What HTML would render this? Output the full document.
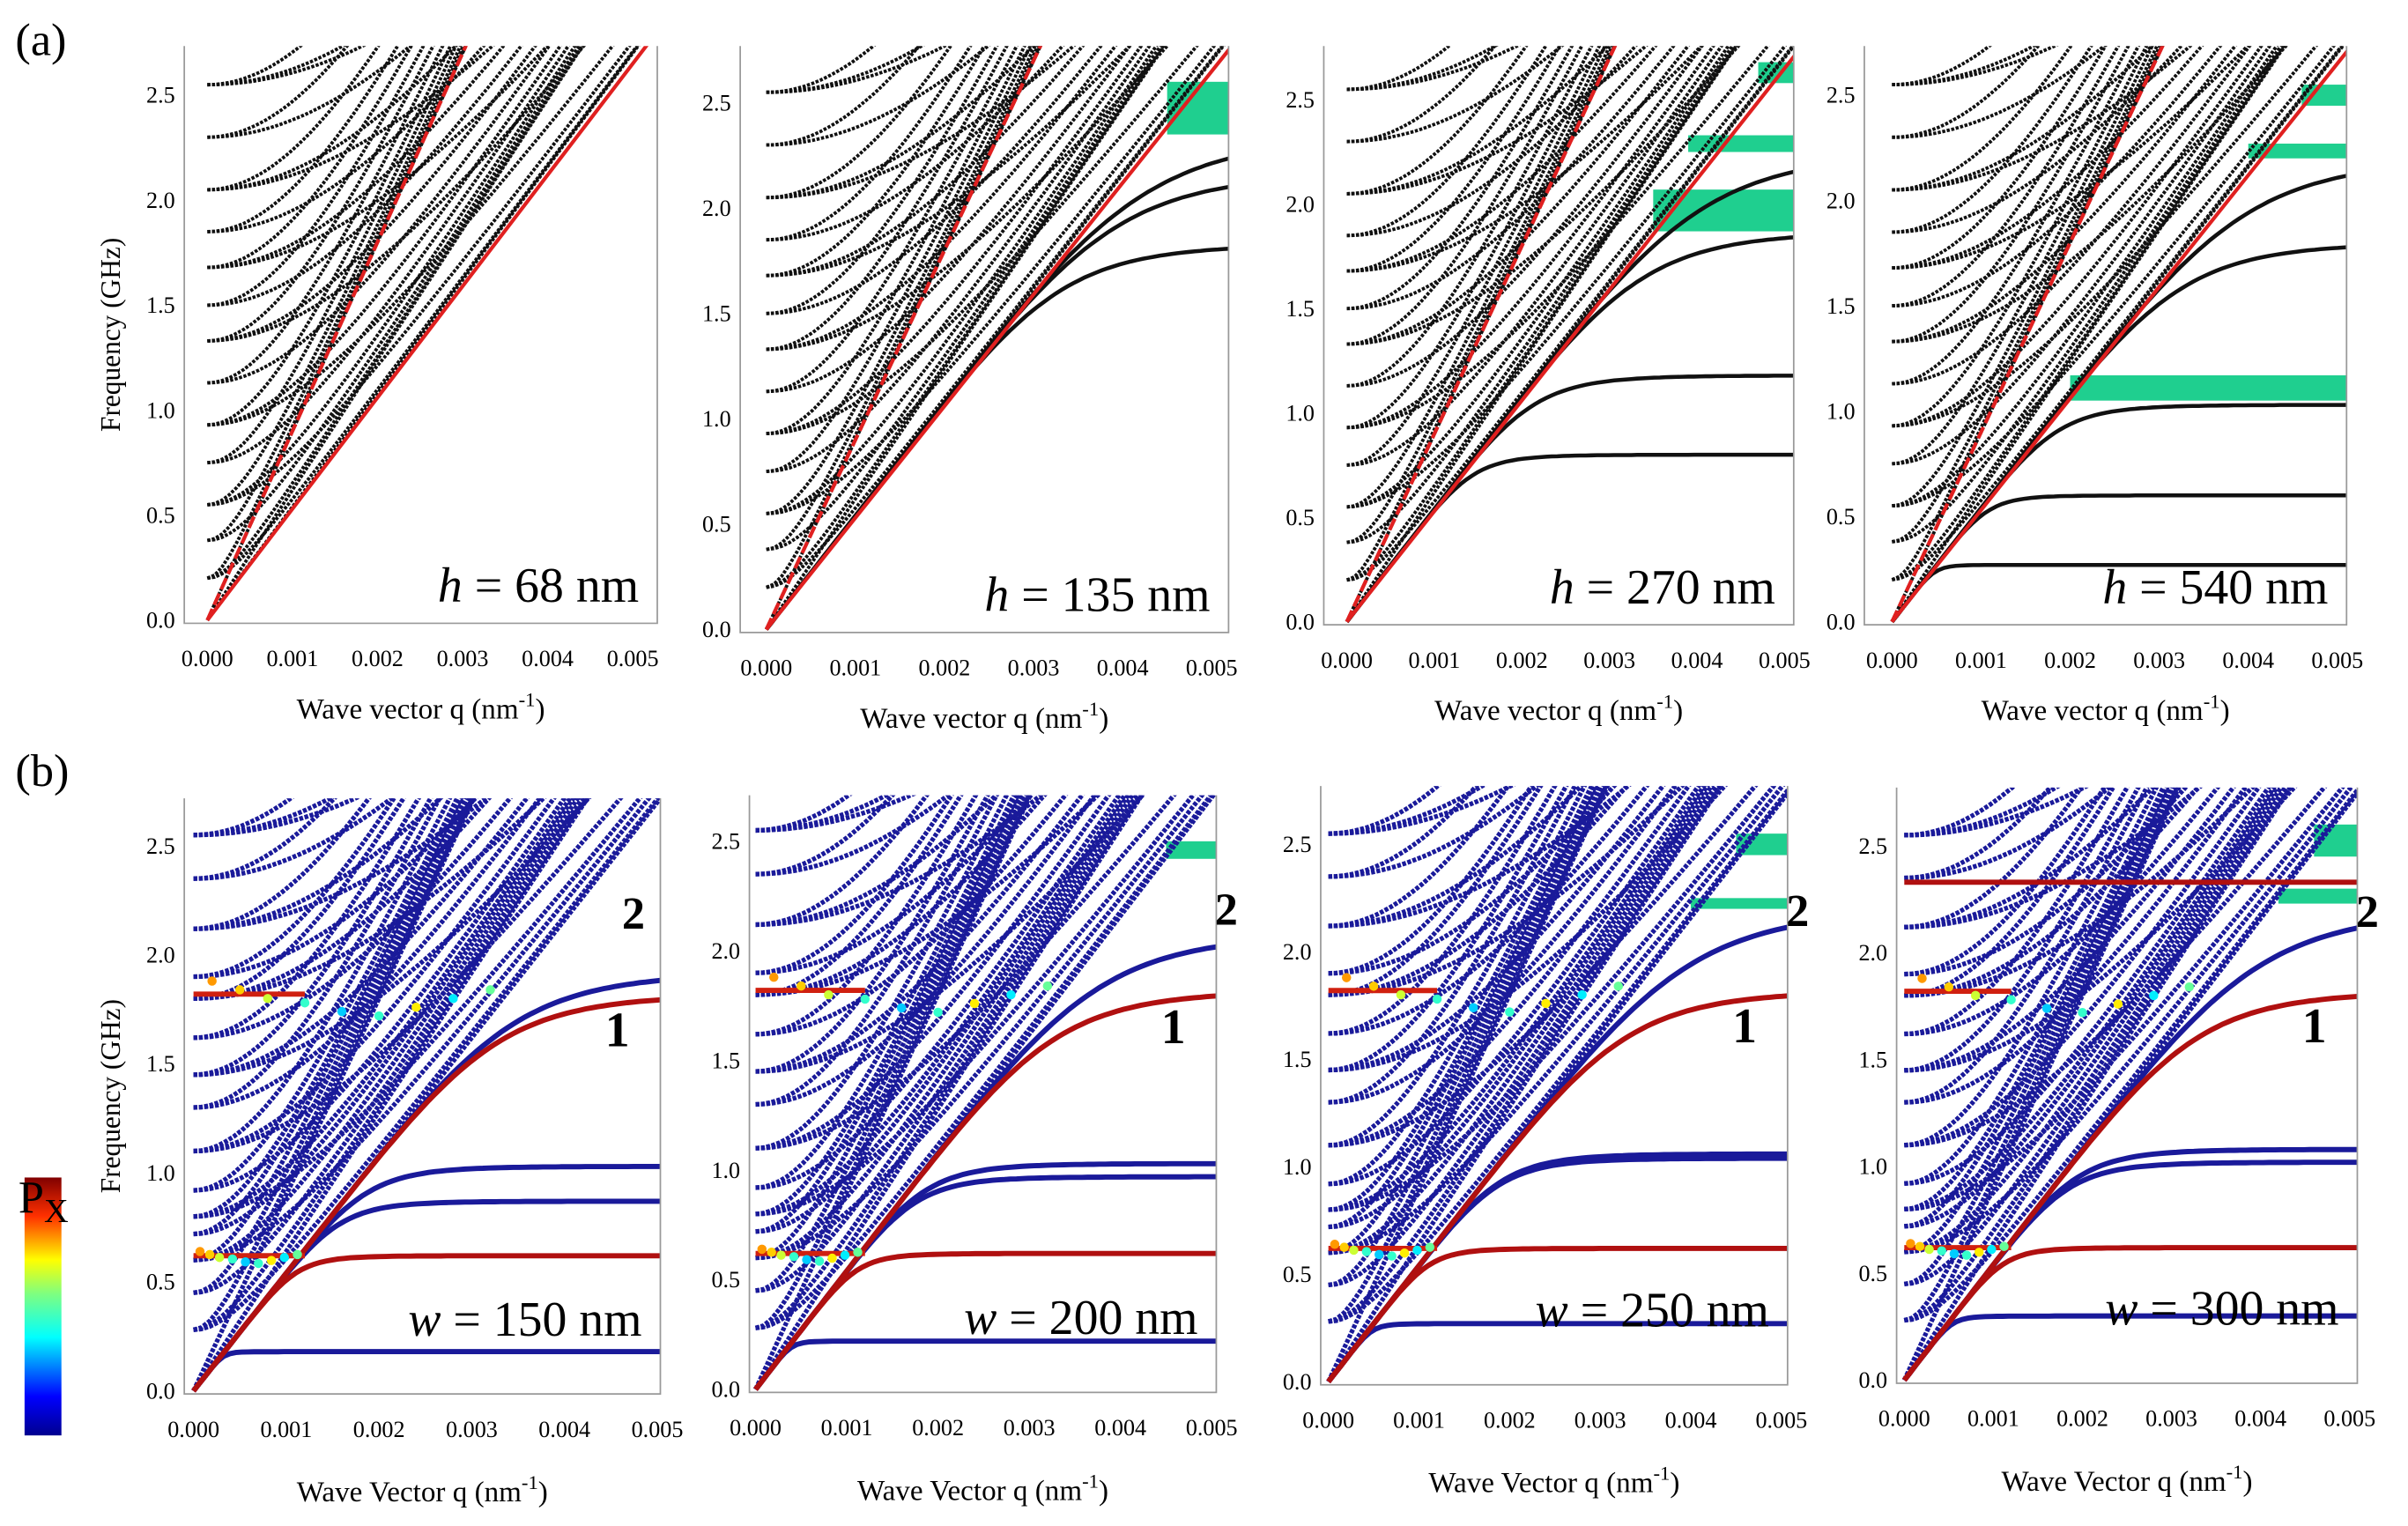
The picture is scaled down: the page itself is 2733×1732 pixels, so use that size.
<!DOCTYPE html>
<html><head><meta charset="utf-8"><style>
html,body{margin:0;padding:0;background:#fff}
svg{display:block}
text{font-family:"Liberation Serif",serif}
</style></head><body>
<svg id="fig" width="2733" height="1732" viewBox="0 0 1568 994" preserveAspectRatio="none" xmlns="http://www.w3.org/2000/svg">
<defs>
<linearGradient id="jet" x1="0" y1="1" x2="0" y2="0">
<stop offset="0" stop-color="#00008f"/><stop offset="0.15" stop-color="#0000ff"/><stop offset="0.38" stop-color="#00ffff"/><stop offset="0.55" stop-color="#7fff7f"/><stop offset="0.68" stop-color="#ffff00"/><stop offset="0.85" stop-color="#ff3000"/><stop offset="1" stop-color="#800000"/>
</linearGradient>
</defs>
<text x="10" y="36" font-size="30">(a)</text>
<text x="10" y="512" font-size="30">(b)</text>
<g>
<rect x="16" y="767" width="24" height="168" fill="url(#jet)"/>
<text x="12" y="790" font-size="30">P<tspan font-size="22" dy="6">X</tspan></text>
</g>
</svg>
<script>
// ---- data ----
const xTicks = ["0.000","0.001","0.002","0.003","0.004","0.005"];
const yTicks = ["0.0","0.5","1.0","1.5","2.0","2.5"];
const cutoffsA = [0.2,0.38,0.55,0.75,0.93,1.13,1.33,1.5,1.68,1.85,2.05,2.3,2.55];
const cutoffsB = [0.28,0.45,0.6,0.72,0.8,0.92,1.1,1.3,1.45,1.62,1.8,1.9,2.12,2.35,2.55];
const flatA1 = [];
const flatA2 = [1.83,2.17,2.35];
const flatA3 = [0.8,1.18,1.87,2.25];
const flatA4 = [0.27,0.6,1.03,1.8,2.2];
const flatB1 = [0.18,0.87,1.03,1.92];
const flatB2 = [0.22,0.97,1.03,2.08];
const flatB3 = [0.27,1.04,1.06,2.2];
const flatB4 = [0.3,1.02,1.08,2.2];
const redFlatB = [0.62,1.82];
const bandsA2 = [[0.0045,2.35,2.6]];
const bandsA3 = [[0.0035,1.87,2.07],[0.0039,2.25,2.33],[0.0047,2.58,2.68]];
const bandsA4 = [[0.002,1.05,1.17],[0.004,2.2,2.27],[0.0046,2.45,2.55]];
const bandsB2 = [[0.0045,2.42,2.5]];
const bandsB3 = [[0.004,2.2,2.25],[0.0045,2.45,2.55]];
const bandsB4 = [[0.0042,2.23,2.3],[0.0046,2.45,2.6]];
const labelsA = ["68","135","270","540"];
const labelsB = ["150","200","250","300"];
const hotQ = [0.0002,0.0005,0.0008,0.0012,0.0016,0.002,0.0024,0.0028,0.0032];
const hotF = [1.88,1.84,1.8,1.78,1.74,1.72,1.76,1.8,1.84];
const hotC = ["#ff9900","#ffcc00","#ccff33","#33ffcc","#00ccff","#33ffcc","#ffee00","#00eeff","#66ff99"];

const NS="http://www.w3.org/2000/svg";
const svg=document.getElementById('fig');
function mk(tag,attrs,parent){const e=document.createElementNS(NS,tag);for(const k in attrs)e.setAttribute(k,attrs[k]);(parent||svg).appendChild(e);return e;}

const panels=[
 {id:'a1',x0:135,x1:412,y0:404,y25:62,L:120,R:428,T:30,row:'a',flat:flatA1,bands:[],lab:labelsA[0]},
 {id:'a2',x0:499,x1:789,y0:410,y25:67,L:482,R:800,T:30,row:'a',flat:flatA2,bands:bandsA2,lab:labelsA[1]},
 {id:'a3',x0:877,x1:1162,y0:405,y25:65,L:862,R:1168,T:30,row:'a',flat:flatA3,bands:bandsA3,lab:labelsA[2]},
 {id:'a4',x0:1232,x1:1522,y0:405,y25:62,L:1214,R:1528,T:30,row:'a',flat:flatA4,bands:bandsA4,lab:labelsA[3]},
 {id:'b1',x0:126,x1:428,y0:906,y25:551,L:120,R:430,T:520,row:'b',flat:flatB1,bands:[],lab:labelsB[0]},
 {id:'b2',x0:492,x1:789,y0:905,y25:548,L:488,R:792,T:518,row:'b',flat:flatB2,bands:bandsB2,lab:labelsB[1]},
 {id:'b3',x0:865,x1:1160,y0:900,y25:550,L:860,R:1164,T:512,row:'b',flat:flatB3,bands:bandsB3,lab:labelsB[2]},
 {id:'b4',x0:1240,x1:1530,y0:899,y25:551,L:1235,R:1535,T:513,row:'b',flat:flatB4,bands:bandsB4,lab:labelsB[3]}
];

function sat(fs,v,q){const a=v*q; if(a<=0)return 0; return Math.pow(Math.pow(fs,-6)+Math.pow(a,-6),-1/6);}

panels.forEach((p,pi)=>{
 const X=q=>p.x0+(p.x1-p.x0)*q/0.005;
 const Y=f=>p.y0-(p.y0-p.y25)*f/2.5;
 const B=p.y0+2;
 const g=mk('g',{});
 
 
 const cp=mk('clipPath',{id:'cp'+p.id},g);
 mk('rect',{x:p.L,y:p.T,width:p.R-p.L,height:B-p.T},cp);
 const plot=mk('g',{'clip-path':'url(#cp'+p.id+')'},g);
 const col=p.row==='a'?'#111':'#1a1a9a';
 const sw=p.row==='a'?2.2:3;
 const dash=p.row==='a'?'2 1':'2.5 1';
 p.bands.forEach(b=>{
  const r=mk('rect',{x:X(b[0]),y:Y(b[2]),width:p.R-X(b[0]),height:Y(b[1])-Y(b[2]),fill:'#1fcf8f'},plot);
  
  
 });
 const fams=p.row==='a'?[900,620,540]:[900,640,540];
 const cut=p.row==='a'?cutoffsA:cutoffsB;
 fams.forEach((v,fi)=>{
  cut.forEach((f0,ci)=>{
   if(fi===2&&ci%2)return;
   let d='';
   for(let i=0;i<=60;i++){const q=0.0052*i/60;const f=Math.sqrt(f0*f0+(v*q)*(v*q));d+=(i?'L':'M')+X(q).toFixed(1)+','+Y(f).toFixed(1);}
   const e=mk('path',{d:d,fill:'none',stroke:col,'stroke-width':sw,'stroke-dasharray':dash},plot);
   
   
  });
  const e=mk('path',{d:'M'+X(0)+','+Y(0)+'L'+X(0.0055)+','+Y(v*0.0055),fill:'none',stroke:col,'stroke-width':sw,'stroke-dasharray':dash},plot);
  
  
 });
 const fl=p.flat.slice();
 const reds=p.row==='b'?redFlatB:[];
 fl.concat(reds).forEach((fs,k)=>{
  let d='';
  for(let i=0;i<=80;i++){const q=0.0052*i/80;const f=sat(fs,540,q);d+=(i?'L':'M')+X(q).toFixed(1)+','+Y(f).toFixed(1);}
  const red=k>=fl.length;
  const e=mk('path',{d:d,fill:'none',stroke:red?'#b01010':col,'stroke-width':p.row==='a'?2.6:3.4},plot);
  
  
 });
 if(p.row==='b'){
  redFlatB.forEach(fs=>{
   const e=mk('path',{d:'M'+X(0)+','+Y(fs)+'L'+X(0.0012)+','+Y(fs),stroke:'#d02010','stroke-width':3.4},plot);
   
   
  });
  if(p.id==='b4'){
   const e=mk('path',{d:'M'+X(0)+','+Y(2.33)+'L'+X(0.0052)+','+Y(2.33),stroke:'#b01010','stroke-width':3.4},plot);
   
   
  }
  hotQ.forEach((q,i)=>{
   const c=mk('circle',{cx:X(q),cy:Y(hotF[i]),r:3,fill:hotC[i]},plot);
   
   
   const c2=mk('circle',{cx:X(q*0.35),cy:Y(hotF[i]*0.34),r:3,fill:hotC[i]},plot);
   
   
  });
 } else {
  const r1=mk('path',{d:'M'+X(0)+','+Y(0)+'L'+X(0.0055)+','+Y(530*0.0055),stroke:'#e02020','stroke-width':2.4},plot);
  
  
  const r2=mk('path',{d:'M'+X(0)+','+Y(0)+'L'+X(0.0035)+','+Y(900*0.0035),stroke:'#e02020','stroke-width':2.4,'stroke-dasharray':'8 3'},plot);
  
  
 }
 const fr=mk('path',{d:'M'+p.L+','+p.T+'L'+p.L+','+B+'L'+p.R+','+B+'L'+p.R+','+p.T,fill:'none',stroke:'#999','stroke-width':1},g);
 
 
 xTicks.forEach((t,i)=>{
  const x=X(i*0.001);
  const tx=mk('text',{x:x,y:B+28,'font-size':15,'text-anchor':'middle'},g);tx.textContent=t;
  
  
 });
 yTicks.forEach((t,i)=>{
  const y=Y(i*0.5);
  const ty=mk('text',{x:p.L-6,y:y+5,'font-size':15,'text-anchor':'end'},g);ty.textContent=t;
  
  
 });
 const xt=mk('text',{x:(p.L+p.R)/2,y:B+(p.row==='a'?62:70),'font-size':19,'text-anchor':'middle'},g);
 xt.innerHTML=(p.row==='a'?'Wave vector q (nm':'Wave Vector q (nm')+'<tspan dy="-8" font-size="13">-1</tspan><tspan dy="8">)</tspan>';
 
 
 if(pi===0||pi===4){
  const yx=p.L-42,yy=(p.T+B)/2;
  const yt=mk('text',{x:yx,y:yy,'font-size':18,'text-anchor':'middle',transform:'rotate(-90 '+yx+' '+yy+')'},g);
  yt.textContent='Frequency (GHz)';
  
  
 }
 const an=mk('text',{x:p.R-12,y:B-(p.row==='a'?14:38),'font-size':32,'text-anchor':'end'},g);
 an.innerHTML='<tspan font-style="italic">'+(p.row==='a'?'h':'w')+'</tspan> = '+p.lab+' nm';
 
 
 if(p.row==='b'){
  const l1=mk('text',{x:p.R-20,y:Y(1.58),'font-size':32,'font-weight':'bold','text-anchor':'end'},g);l1.textContent='1';
  
  
  const l2=mk('text',{x:p.R+(pi===4?-10:14),y:Y(2.12),'font-size':30,'font-weight':'bold','text-anchor':'end'},g);l2.textContent='2';
  
  
 }
});
</script>
</body></html>
